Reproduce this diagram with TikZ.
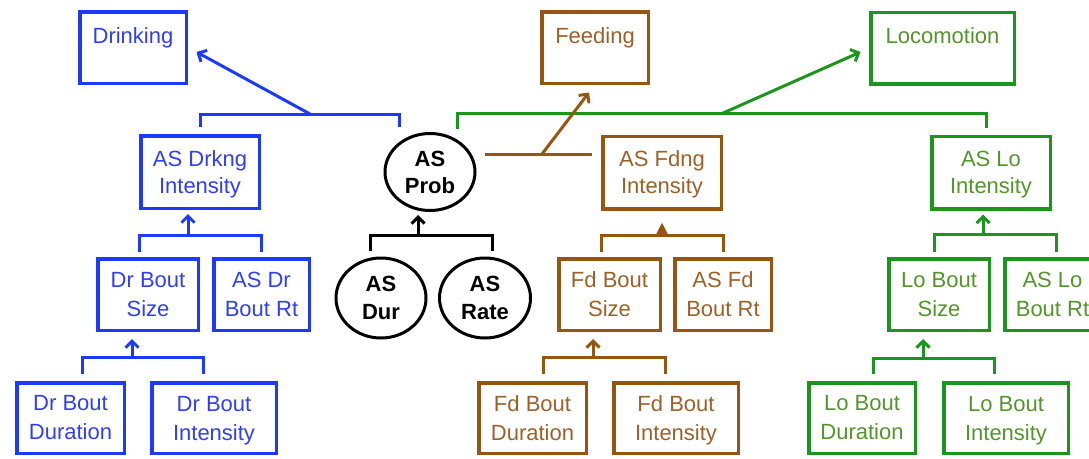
\documentclass[tikz,border=0pt]{standalone}
\usepackage{fontspec}
\setmainfont{Liberation Sans}
\usetikzlibrary{shapes.geometric,arrows.meta}

\definecolor{drline}{RGB}{28,58,250}
\definecolor{drtext}{RGB}{48,62,245}
\definecolor{fdline}{RGB}{150,86,16}
\definecolor{fdtext}{RGB}{158,96,40}
\definecolor{loline}{RGB}{26,150,28}
\definecolor{lotext}{RGB}{82,150,42}

% last line of a label: keep its height, drop its descender depth
\newcommand\lastln[1]{\raisebox{0pt}[\height][0pt]{#1}}

\tikzset{
  box/.style={draw, line width=3.5pt, rectangle, inner sep=0pt, align=center,
    font=\fontsize{22}{29}\selectfont},
  topbox/.style={box, text height=31.25pt, text depth=40.25pt, minimum height=71.5pt},
  midbox/.style={box, minimum height=72.5pt, font=\fontsize{22}{27}\selectfont},
  lowbox/.style={box, minimum height=71.5pt},
  dr/.style={draw=drline, text=drtext},
  fd/.style={draw=fdline, text=fdtext},
  lo/.style={draw=loline, text=lotext},
  oval/.style={draw=black, ellipse, line width=3pt, inner sep=0pt, align=center,
    font=\fontsize{22}{28.5}\selectfont\bfseries},
  wire/.style={line width=3pt},
  barb/.style={-{Straight Barb[length=6.5pt,width=13pt,line width=3pt]}},
  tri/.style={-{Triangle[length=12pt,width=11pt]}},
}

\begin{document}
\begin{tikzpicture}[x=1pt,y=-1pt]
\useasboundingbox (0,0) rectangle (1089,458);

% top-level behaviours
\node[topbox,dr,minimum width=106.5pt] (drink) at (133,47.5) {Drinking};
\node[topbox,fd,minimum width=106.5pt] (feed)  at (595,47.5) {Feeding};
\node[topbox,lo,minimum width=143.5pt] (loco)  at (942.5,48) {Locomotion};

% intensities
\node[midbox,dr,minimum width=118.5pt] (dk)  at (200,172)   {AS Drkng\\\lastln{Intensity}};
\node[midbox,fd,minimum width=118.5pt] (fdi) at (662,172.5) {AS Fdng\\\lastln{Intensity}};
\node[midbox,lo,minimum width=118.5pt] (loi) at (991,172.5) {AS Lo\\\lastln{Intensity}};

% probability and its parts
\node[oval,minimum width=90pt,minimum height=77pt,font=\fontsize{22}{27}\selectfont\bfseries] (prob) at (430,172) {AS\\\lastln{Prob}};
\node[oval,minimum width=90pt,minimum height=80pt] (dur)  at (381,298) {AS\\Dur};
\node[oval,minimum width=91pt,minimum height=80pt] (rate) at (485,298) {AS\\Rate};

% bout size and bout rate
\node[lowbox,dr,minimum width=100.5pt] (bsz) at (148,294.5)    {Dr Bout\\Size};
\node[lowbox,dr,minimum width=95.5pt]  (brt) at (261.5,294.5)  {AS Dr\\Bout Rt};
\node[lowbox,fd,minimum width=101.5pt] (fsz) at (609.5,294.5)  {Fd Bout\\Size};
\node[lowbox,fd,minimum width=96.5pt]  (frt) at (723,294.5)    {AS Fd\\Bout Rt};
\node[lowbox,lo,minimum width=100.5pt] (lsz) at (939,294.5)    {Lo Bout\\Size};
\node[lowbox,lo,minimum width=95.5pt]  (lrt) at (1052.5,294.5) {AS Lo\\Bout Rt};

% bout duration and bout intensity
\node[lowbox,dr,minimum width=107.5pt,minimum height=70.5pt] (ddu) at (70.5,418) {Dr Bout\\Duration};
\node[lowbox,dr,minimum width=124.5pt,minimum height=70.5pt] (din) at (214,418)  {Dr Bout\\\lastln{Intensity}};
\node[lowbox,fd,minimum width=107.5pt,minimum height=70.5pt] (fdu) at (532.5,418) {Fd Bout\\Duration};
\node[lowbox,fd,minimum width=124.5pt,minimum height=70.5pt] (fin) at (676,418)  {Fd Bout\\\lastln{Intensity}};
\node[lowbox,lo,minimum width=106.5pt,minimum height=70.5pt] (ldu) at (862,418)  {Lo Bout\\Duration};
\node[lowbox,lo,minimum width=124.5pt,minimum height=70.5pt] (lin) at (1006,418) {Lo Bout\\\lastln{Intensity}};

% junction points
\coordinate (dj) at (310,114);
\coordinate (gj) at (722,113.5);
\coordinate (fj) at (542,154);
\coordinate (pj) at (418,235);
\coordinate (dkj) at (188,235);
\coordinate (fdj) at (662,235);
\coordinate (loj) at (983,234);
\coordinate (bdj) at (132,357);
\coordinate (bfj) at (593,357);
\coordinate (blj) at (923,358);

% drinking branch
\draw[wire,drline] ([yshift=7pt]dk.north) |- (dj) -| ([xshift=-31pt,yshift=5pt]prob.north);
\draw[wire,drline,barb] (dj) -- ([xshift=8.5pt,yshift=-4.5pt]drink.east);

% locomotion branch
\draw[wire,loline] ([xshift=27pt,yshift=3.5pt]prob.north) |- (gj) -| ([xshift=-5pt,yshift=6.5pt]loi.north);
\draw[wire,loline,barb] (gj) -- ([xshift=-8.5pt,yshift=-4pt]loco.west);

% feeding branch
\draw[wire,fdline] ([xshift=8pt,yshift=18pt]prob.east) -- ([xshift=-9.5pt,yshift=18.5pt]fdi.west);
\draw[wire,fdline,barb] (fj) -- ([xshift=-6pt,yshift=-7.5pt]feed.south);

% AS Prob from duration and rate
\draw[wire,black] ([xshift=-11pt,yshift=5.5pt]dur.north) |- (pj) -| ([xshift=7pt,yshift=5.5pt]rate.north);
\draw[wire,black,barb] (pj) -- ([xshift=-12pt,yshift=-3pt]prob.south);

% intensities from bout size and bout rate
\draw[wire,drline] ([xshift=-9pt,yshift=5.5pt]bsz.north) |- (dkj) -| ([yshift=5.5pt]brt.north);
\draw[wire,drline,barb] (dkj) -- ([xshift=-12pt,yshift=-4pt]dk.south);
\draw[wire,fdline] ([xshift=-8.5pt,yshift=5.5pt]fsz.north) |- (fdj) -| ([yshift=5.5pt]frt.north);
\draw[wire,fdline,tri] (fdj) -- ([yshift=-12pt]fdi.south);
\draw[wire,loline] ([xshift=-5pt,yshift=5.5pt]lsz.north) |- (loj) -| ([xshift=3.5pt,yshift=5.5pt]lrt.north);
\draw[wire,loline,barb] (loj) -- ([xshift=-8pt,yshift=-4pt]loi.south);

% bout size from duration and intensity
\draw[wire,drline] ([xshift=11.5pt,yshift=7pt]ddu.north) |- (bdj) -| ([xshift=-11pt,yshift=7pt]din.north);
\draw[wire,drline,barb] (bdj) -- ([xshift=-16pt,yshift=-7pt]bsz.south);
\draw[wire,fdline] ([xshift=10.5pt,yshift=7pt]fdu.north) |- (bfj) -| ([xshift=-11pt,yshift=7pt]fin.north);
\draw[wire,fdline,barb] (bfj) -- ([xshift=-16.5pt,yshift=-7pt]fsz.south);
\draw[wire,loline] ([xshift=11pt,yshift=7pt]ldu.north) |- (blj) -| ([xshift=-12pt,yshift=7pt]lin.north);
\draw[wire,loline,barb] (blj) -- ([xshift=-16pt,yshift=-7pt]lsz.south);
\end{tikzpicture}
\end{document}
